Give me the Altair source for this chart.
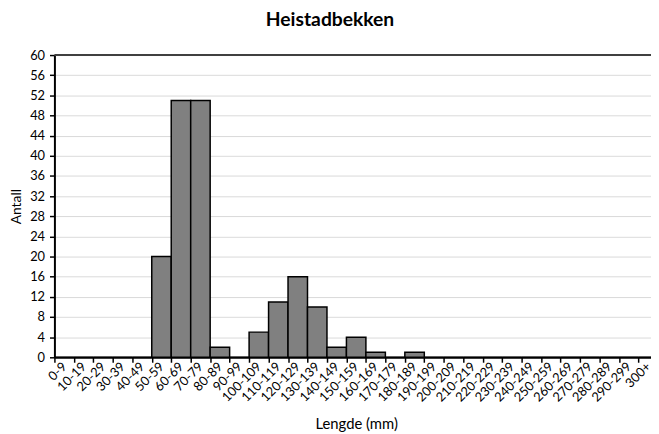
import altair as alt
import pandas as pd

categories = ["0-9", "10-19", "20-29", "30-39", "40-49", "50-59", "60-69", "70-79",
              "80-89", "90-99", "100-109", "110-119", "120-129", "130-139", "140-149",
              "150-159", "160-169", "170-179", "180-189", "190-199", "200-209",
              "210-219", "220-229", "230-239", "240-249", "250-259", "260-269",
              "270-279", "280-289", "290-299", "300+"]
counts = [0, 0, 0, 0, 0, 20, 51, 51, 2, 0, 5, 11, 16, 10, 2, 4, 1, 0, 1,
          0, 0, 0, 0, 0, 0, 0, 0, 0, 0, 0, 0]
y_ticks = list(range(0, 61, 4))

df = pd.DataFrame({"Lengde": categories, "Antall": counts})

FONT = "Lato"

x_enc = alt.X("Lengde:N", sort=categories,
              scale=alt.Scale(paddingInner=0, paddingOuter=0, range=[0, 611]),
              axis=alt.Axis(title="Lengde (mm)", labelAngle=-45, labelAlign="right",
                            labelBaseline="middle", labelPadding=2, tickBand="extent",
                            tickSize=5, tickWidth=1.5, tickColor="black",
                            domainColor="black", domainWidth=2, labelOverlap=False,
                            labelFont=FONT, labelFontSize=13, labelColor="black",
                            titleFont=FONT, titleFontSize=15, titleFontWeight="normal",
                            titleColor="black", titleY=72, titleBaseline="alphabetic",
                            grid=False))

y_axis = alt.Axis(title="Antall", values=y_ticks, tickSize=5, tickWidth=1.5,
                  tickColor="black", domainColor="black", domainWidth=2,
                  labelOverlap=False, labelFlush=False,
                  labelFont=FONT, labelFontSize=13, labelColor="black",
                  labelPadding=5,
                  gridColor="#d9d9d9", gridWidth=1,
                  titleFont=FONT, titleFontSize=14, titleFontWeight="normal",
                  titleColor="black", titleAngle=-90, titleX=-34, titleY=153,
                  titleAlign="center", titleBaseline="alphabetic")
y_scale = alt.Scale(domain=[0, 60], nice=False)

bars = alt.Chart(df).mark_bar(color="#808080", stroke="black", strokeWidth=1.5).encode(
    x=x_enc,
    y=alt.Y("Antall:Q", scale=y_scale, axis=y_axis),
)

top_df = pd.DataFrame({"Antall": [60]})
top_line = alt.Chart(top_df).mark_rule(color="#404040", strokeWidth=2).encode(
    y=alt.Y("Antall:Q", scale=y_scale, axis=y_axis)
)

chart = alt.layer(bars, top_line).properties(
    width=604, height=306,
    title=alt.TitleParams("Heistadbekken", anchor="start", frame="group", dx=214,
                          font=FONT, fontSize=19.5, fontWeight="bold", color="black",
                          baseline="alphabetic", offset=4),
    padding={"left": 47, "top": 45, "right": 0, "bottom": 75},
    autosize=alt.AutoSizeParams(type="none"),
).configure_view(stroke=None)

chart.save("out.html", embed_options={"renderer": "svg", "actions": False})
